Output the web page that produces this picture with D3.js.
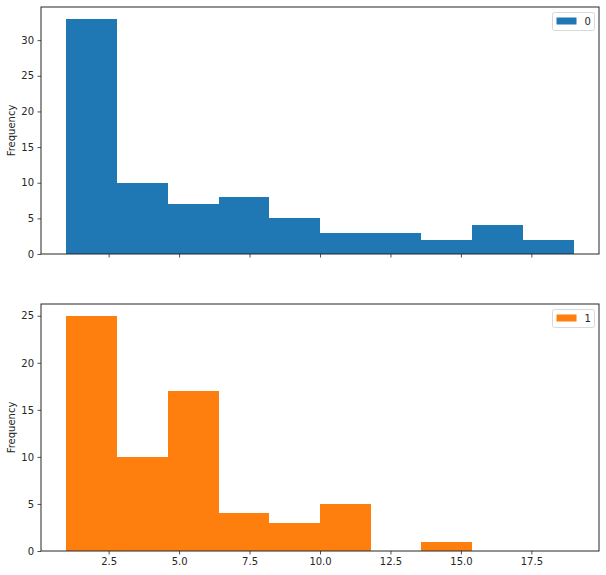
<!DOCTYPE html>
<html lang="en">
<head>
<meta charset="utf-8">
<script src="https://cdn.jsdelivr.net/npm/d3@7"></script>
<style>
    body { margin: 0; background: #fff; }
    text { font-family: "DejaVu Sans", sans-serif; fill: #262626; }
</style>
</head>
<body>
<script>

    // bin edges shared by both panels (pandas hist, 10 bins)
    var binStart = 1, binWidth = 1.8;
    var counts0 = [33, 10, 7, 8, 5, 3, 3, 2, 4, 2];
    var counts1 = [25, 10, 17, 4, 3, 5, 0, 1, 0, 0];
    var xTicks = [2.5, 5.0, 7.5, 10.0, 12.5, 15.0, 17.5];
    var yTicks0 = [0, 5, 10, 15, 20, 25, 30];
    var yTicks1 = [0, 5, 10, 15, 20, 25];
    var seriesNames = ["0", "1"];
    var colors = ["#1f77b4", "#ff7f0e"];

    var width = 606, height = 575;
    var left = 41, right = 599;

    var svg = d3.select("body").append("svg")
            .attr("width", width)
            .attr("height", height);

    var x = d3.scaleLinear().domain([0.1, 19.9]).range([left, right]);

    function panel(counts, yTicks, top, bottom, name, color, showLabels) {
        var bins = counts.map(function(c, i) {
            return {x0: binStart + i * binWidth, x1: binStart + (i + 1) * binWidth, n: c};
        });
        var y = d3.scaleLinear().domain([0, d3.max(counts) * 1.05]).range([bottom, top]);

        var g = svg.append("g");

        /*
        столбцы
         */
        g.selectAll("rect.bar")
                .data(bins.filter(function(d){ return d.n > 0; }))
                .enter()
                .append("rect")
                .attr("class", "bar")
                .attr("x", function(d){ return x(d.x0); })
                .attr("width", function(d){ return x(d.x1) - x(d.x0); })
                .attr("y", function(d){ return y(d.n); })
                .attr("height", function(d){ return y(0) - y(d.n); })
                .attr("shape-rendering", "crispEdges")
                .style("fill", color)
        ;

        // frame
        g.append("rect")
                .attr("x", left).attr("y", top)
                .attr("width", right - left).attr("height", bottom - top)
                .style("fill", "none")
                .style("stroke", "#262626")
                .style("stroke-width", 1)
        ;

        var xAxis = d3.axisBottom(x).tickValues(xTicks).tickSize(3.5).tickPadding(3.5)
                .tickFormat(showLabels ? d3.format(".1f") : function(){ return ""; });
        var xa = g.append("g")
                .attr("transform", "translate(0," + bottom + ")")
                .call(xAxis);
        xa.select(".domain").remove();

        var yAxis = d3.axisLeft(y).tickValues(yTicks).tickSize(3.5).tickPadding(3.5);
        var ya = g.append("g")
                .attr("transform", "translate(" + left + ",0)")
                .call(yAxis);
        ya.select(".domain").remove();

        g.selectAll(".tick line").style("stroke", "#262626").style("stroke-width", 0.8);
        g.selectAll(".tick text").style("font-size", "10px")
                .style("font-family", "DejaVu Sans, sans-serif").style("fill", "#262626");

        g.append("text")
                .attr("transform", "translate(15," + ((top + bottom) / 2) + ") rotate(-90)")
                .attr("text-anchor", "middle")
                .style("font-size", "10px")
                .text("Frequency");

        // legend
        var lg = g.append("g").attr("transform", "translate(552.5," + (top + 5.5) + ")");
        lg.append("rect")
                .attr("width", 42).attr("height", 18).attr("rx", 2)
                .style("fill", "#fff").style("stroke", "#d9d9d9");
        lg.append("rect")
                .attr("x", 4).attr("y", 5).attr("width", 20).attr("height", 7)
                .style("fill", color);
        lg.append("text")
                .attr("x", 32).attr("y", 12.5)
                .style("font-size", "10px")
                .text(name);
    }

    panel(counts0, yTicks0, 7, 254, seriesNames[0], colors[0], false);
    panel(counts1, yTicks1, 304, 551, seriesNames[1], colors[1], true);

</script>
</body>
</html>
